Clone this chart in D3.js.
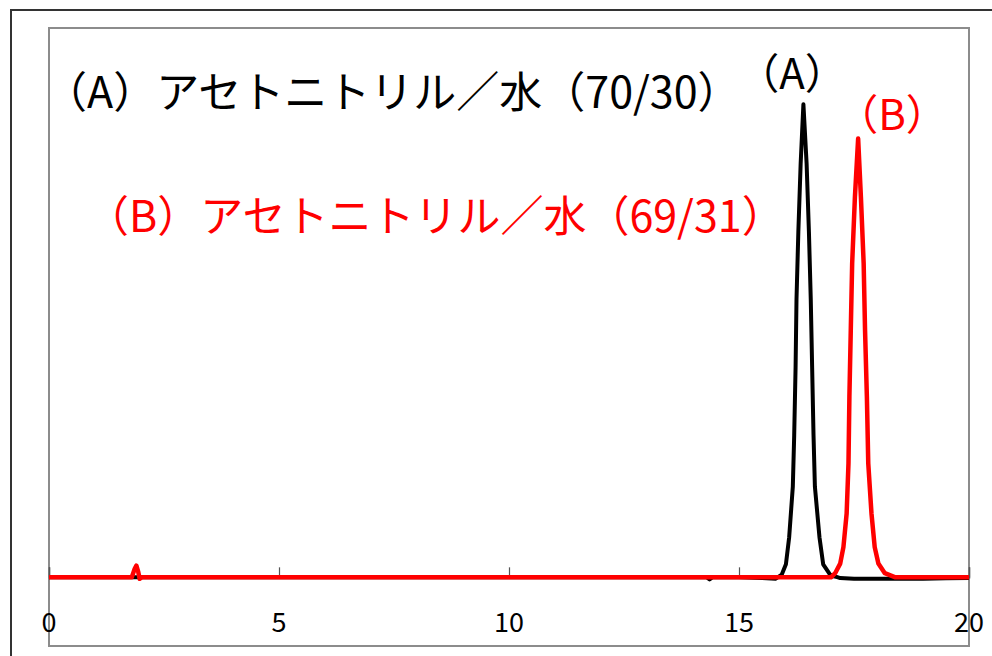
<!DOCTYPE html>
<html><head><meta charset="utf-8">
<script src="https://cdn.jsdelivr.net/npm/d3@7/dist/d3.min.js"></script>
<style>body{margin:0;background:#fff}svg{display:block}</style>
</head><body>
<svg id="c" width="992" height="656"></svg>
<script>
// Data (time in min, signal in arbitrary units)
const timeA   = [0, 2, 4, 6, 8, 10, 12, 14, 14.3, 14.36, 14.42, 15, 15.5, 15.8, 15.93, 16.02, 16.09, 16.17, 16.20, 16.23, 16.25, 16.29, 16.34, 16.40, 16.47, 16.52, 16.56, 16.59, 16.62, 16.65, 16.75, 16.83, 16.98, 17.2, 17.5, 18, 18.5, 19, 19.5, 20];
const signalA = [0, 0, 0, 0, 0, 0, 0, 0, 0, -3, 0, 0, -1, -2, 4, 19, 58, 132, 207, 306, 405, 503, 602, 689, 602, 503, 405, 306, 207, 132, 58, 19, 4, -1, -2, -2, -2, -2, -1.5, -1];
const timeB   = [0, 1.80, 1.86, 1.90, 1.94, 1.97, 2.02, 4, 6, 8, 10, 12, 14, 16, 16.5, 17.0, 17.09, 17.20, 17.27, 17.34, 17.38, 17.40, 17.43, 17.46, 17.52, 17.59, 17.65, 17.71, 17.74, 17.78, 17.81, 17.88, 17.95, 18.03, 18.17, 18.4, 19, 19.5, 20];
const signalB = [0, 0, 12, 17, 8, -2, 0, 0, 0, 0, 0, 0, 0, 0, 0, 0, 6, 20, 44, 93, 166, 263, 360, 457, 554, 639, 554, 457, 360, 263, 166, 93, 44, 20, 6, 0, 0, 0, 0];
const xTicks = [0, 5, 10, 15, 20];
const titleA = "（A）アセトニトリル／水（70/30）";
const titleB = "（B）アセトニトリル／水（69/31）";
const peakLabelA = "（A）";
const peakLabelB = "（B）";

const svg = d3.select("#c");
const font = "'Noto Sans CJK JP', 'Noto Sans', sans-serif";
const plot = {left: 49, right: 969, top: 28, bottom: 646};

const x = d3.scaleLinear().domain([0, 20]).range([plot.left, plot.right]);
const y = d3.scaleLinear().domain([-100, 800]).range([plot.bottom, plot.top]);

// outer frame
svg.append("rect").attr("x", 11).attr("y", 10).attr("width", 1100).attr("height", 800)
  .attr("fill", "none").attr("stroke", "#333").attr("stroke-width", 2);
// plot area
svg.append("rect").attr("x", plot.left).attr("y", plot.top)
  .attr("width", plot.right - plot.left).attr("height", plot.bottom - plot.top)
  .attr("fill", "#fff").attr("stroke", "#8c8c8c").attr("stroke-width", 2);

// x axis at signal 0, ticks pointing up
const axis = d3.axisBottom(x).tickValues(xTicks).tickSize(-10).tickFormat("");
const ag = svg.append("g").attr("transform", `translate(0,${y(0)})`).call(axis);
ag.select(".domain").attr("stroke", "#555").attr("stroke-width", 1.5);
ag.selectAll(".tick line").attr("stroke", "#555").attr("stroke-width", 1.2);

// tick labels
svg.selectAll("text.tl").data(xTicks).enter().append("text").attr("class", "tl")
  .attr("x", d => x(d)).attr("y", 632).attr("text-anchor", "middle")
  .attr("font-family", font).attr("font-size", 27).attr("fill", "#000").text(d => d);

const line = d3.line().x(d => x(d[0])).y(d => y(d[1]));
svg.append("path").datum(timeA.map((t, i) => [t, signalA[i]]))
  .attr("d", line).attr("fill", "none").attr("stroke", "#000").attr("stroke-width", 4).attr("stroke-linejoin", "round");
svg.append("path").datum(timeB.map((t, i) => [t, signalB[i]]))
  .attr("d", line).attr("fill", "none").attr("stroke", "#ff0000").attr("stroke-width", 4.5).attr("stroke-linejoin", "round");

// titles
svg.append("text").attr("x", 44).attr("y", 108).attr("font-family", font).attr("font-size", 43)
  .attr("fill", "#000").text(titleA);
svg.append("text").attr("x", 86).attr("y", 232).attr("font-family", font).attr("font-size", 43)
  .attr("fill", "#ff0000").text(titleB);
svg.append("text").attr("x", 792).attr("y", 89).attr("text-anchor", "middle").attr("font-family", font).attr("font-size", 42)
  .attr("fill", "#000").text(peakLabelA);
svg.append("text").attr("x", 892).attr("y", 130).attr("text-anchor", "middle").attr("font-family", font).attr("font-size", 42)
  .attr("fill", "#ff0000").text(peakLabelB);
</script>
</body></html>
